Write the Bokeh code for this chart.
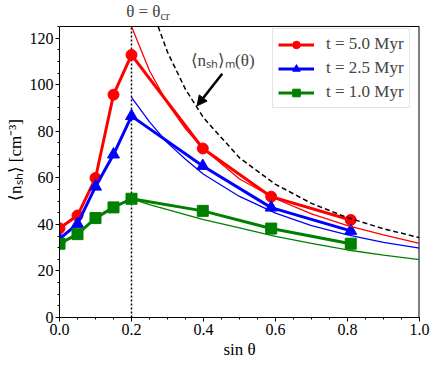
from bokeh.plotting import figure
from bokeh.models import (Span, Label, Arrow, NormalHead, Legend, LegendItem, Range1d,
                          FixedTicker, CustomJSTickFormatter)
from bokeh.embed import file_html
from bokeh.resources import INLINE

FONT = "Liberation Serif"

# simulation points
x_sim = [0.0, 0.05, 0.1, 0.15, 0.2, 0.398, 0.588, 0.809]
n_t50 = [38.3, 43.8, 59.9, 95.7, 112.8, 72.6, 51.9, 41.9]
n_t25 = [33.8, 40.2, 56.2, 70.0, 86.5, 65.1, 47.2, 37.2]
n_t10 = [31.7, 35.8, 42.7, 47.3, 51.0, 45.8, 38.2, 31.7]

# model curves (thin lines)
x_mod = [0.2, 0.25, 0.3, 0.35, 0.4, 0.5, 0.6, 0.7, 0.8, 0.9, 1.0]
m_t50 = [125, 106, 92, 81, 72.5, 59.5, 51, 44.5, 39.5, 35.5, 31.8]
m_t25 = [94.5, 84, 75, 68, 61.5, 52, 44.8, 39.5, 35.5, 32.3, 29.8]
m_t10 = [51, 48.5, 46.3, 44.2, 42, 38.5, 34.8, 31.8, 29.0, 26.8, 24.9]

# maximum curve (dashed)
x_max = [0.274, 0.3, 0.35, 0.4, 0.5, 0.6, 0.7, 0.8, 0.9, 1.0]
n_max = [125, 114, 98, 85.8, 68.6, 57.2, 49, 42.9, 38.1, 34.3]

theta_cr = 0.2
labels = ["t = 5.0 Myr", "t = 2.5 Myr", "t = 1.0 Myr"]
colors = ["#ff0000", "#0000ff", "#008000"]
markers = ["circle", "triangle", "square"]
x_ticks = [0.0, 0.2, 0.4, 0.6, 0.8, 1.0]
y_ticks = [0, 20, 40, 60, 80, 100, 120]
x_lo, x_hi = 0.0, 1.0
y_lo, y_hi = 0.0, 125.0
y_room = 135.3   # frame extends above the axes box to hold the title

p = figure(frame_width=360, frame_height=315, output_backend="svg", toolbar_location=None,
           x_range=Range1d(x_lo, x_hi), y_range=Range1d(y_lo, y_room),
           min_border_left=59, min_border_right=17, min_border_top=2, min_border_bottom=44)
p.xgrid.visible = False
p.ygrid.visible = False
p.outline_line_color = None
p.background_fill_color = "white"
p.border_fill_color = "white"

for ax in (p.xaxis[0], p.yaxis[0]):
    ax.major_label_text_font = FONT
    ax.major_label_text_font_size = "16px"
    ax.major_label_text_color = "black"
    ax.axis_label_text_font = FONT
    ax.axis_label_text_font_size = "17px"
    ax.axis_label_text_font_style = "normal"
    ax.axis_label_text_color = "black"
    ax.axis_line_color = "black"
    ax.major_tick_line_color = "black"
    ax.minor_tick_line_color = "black"
    ax.major_tick_in = 0
    ax.major_tick_out = 4
    ax.minor_tick_in = 0
    ax.minor_tick_out = 2
    ax.major_label_standoff = 2
    ax.axis_label_standoff = 2
p.yaxis[0].bounds = (y_lo, y_hi)

p.xaxis[0].ticker = FixedTicker(ticks=x_ticks, minor_ticks=[i * 0.05 for i in range(21)])
p.yaxis[0].ticker = FixedTicker(ticks=y_ticks, minor_ticks=[i * 5 for i in range(26)])
p.xaxis[0].formatter = CustomJSTickFormatter(code="return tick.toFixed(1);")
p.xaxis.axis_label = "sin θ"
p.yaxis.axis_label = "⟨nₛₕ⟩ [cm⁻³]"

# axes box: top and right spines
p.add_layout(Span(location=y_hi, dimension="width", line_color="black", line_width=1))
p.segment(x0=[x_hi], y0=[y_lo], x1=[x_hi], y1=[y_hi], line_color="black", line_width=2)

# theta_cr marker line
p.segment(x0=[theta_cr], y0=[y_lo], x1=[theta_cr], y1=[y_hi], line_color="black",
          line_dash="2 2", line_width=1.5)

sims = [n_t50, n_t25, n_t10]
mods = [m_t50, m_t25, m_t10]
items = []
for lab, col, mk, ys in zip(labels, colors, markers, sims):
    r1 = p.line(x_sim, ys, line_color=col, line_width=3)
    r2 = p.scatter(x_sim, ys, marker=mk, size=11 if mk != "triangle" else 12,
                   fill_color=col, line_color=col)
    items.append(LegendItem(label=lab, renderers=[r1, r2]))
for col, ys in zip(colors, mods):
    p.line(x_mod, ys, line_color=col, line_width=1.3)
p.line(x_max, n_max, line_color="black", line_width=1.5, line_dash="5 3")

legend = Legend(items=items, location=(213, 209))
legend.label_text_font = FONT
legend.label_text_font_size = "17px"
legend.glyph_width = 36
legend.glyph_height = 19
legend.label_height = 19
legend.label_standoff = 12
legend.spacing = 4
legend.padding = 5
legend.margin = 0
legend.border_line_color = "#cccccc"
legend.border_line_width = 1
legend.background_fill_alpha = 0.8
p.add_layout(legend)

# annotation
p.add_layout(Label(x=0.453, y=110.2, text="⟨nₛₕ⟩ₘ(θ)", text_font=FONT,
                   text_font_size="17px", text_align="center", text_baseline="middle"))
p.add_layout(Arrow(x_start=0.452, y_start=104.7, x_end=0.382, y_end=90.9,
                   line_color="black", line_width=2.5,
                   end=NormalHead(size=10, fill_color="black", line_color="black")))

# title above the axes box at theta_cr
p.add_layout(Label(x=theta_cr, y=131.4, text="θ = θ", text_font=FONT,
                   text_font_size="17px", text_align="right", text_baseline="middle",
                   x_offset=29))
p.add_layout(Label(x=theta_cr, y=131.4, text="cr", text_font=FONT,
                   text_font_size="12px", text_align="left", text_baseline="middle",
                   x_offset=29, y_offset=-4))

open("out.html", "w").write(file_html(p, INLINE))
